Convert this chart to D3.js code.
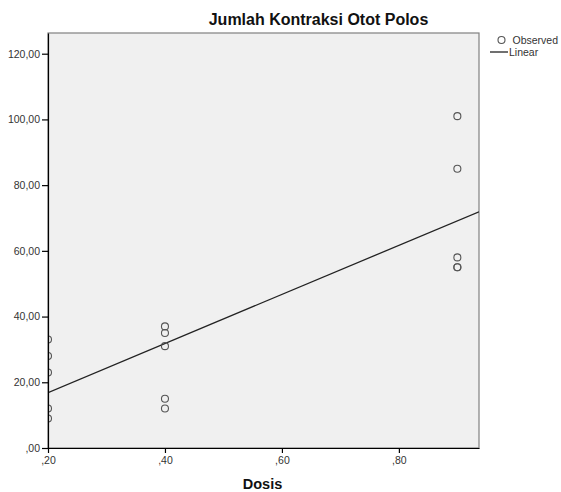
<!DOCTYPE html>
<html>
<head>
<meta charset="utf-8">
<script src="https://cdn.jsdelivr.net/npm/d3@7"></script>
<style>
  body { margin: 0; background: #fff; }
  text { font-family: "Liberation Sans", Arial, sans-serif; }
</style>
</head>
<body>
<script>
// observed values
var dosis     = [0.2, 0.2, 0.2, 0.2, 0.2, 0.4, 0.4, 0.4, 0.4, 0.4, 0.9, 0.9, 0.9, 0.9, 0.9];
var kontraksi = [33, 28, 23, 12, 9, 37, 35, 31, 15, 12, 101, 85, 58, 55, 55];
var xTicks = [0.2, 0.4, 0.6, 0.8];
var yTicks = [0, 20, 40, 60, 80, 100, 120];
var legendLabels = ['Observed', 'Linear'];

var totalWidth = 561, totalHeight = 492;
var margin = { top: 33, right: 83, bottom: 44, left: 48 };
var graphWidth = 431, graphHeight = 415;

var svg = d3.select('body')
  .append('svg')
  .attr('width', totalWidth)
  .attr('height', totalHeight);

var xScale = d3.scaleLinear().domain([0.2, 0.937]).range([0, graphWidth]);
var yScale = d3.scaleLinear().domain([0, 126.3]).range([graphHeight, 0]);

// SPSS style numbers: ",20" and "120,00"
function spssFormat(d) {
  return d3.format('.2f')(d).replace(/^0\./, '.').replace('.', ',');
}

var mainGroup = svg.append('g')
  .attr('transform', 'translate(' + margin.left + ',' + margin.top + ')');

mainGroup.append('rect')
  .attr('width', graphWidth)
  .attr('height', graphHeight)
  .attr('fill', '#f0f0f0')
  .attr('stroke', '#808080')
  .attr('stroke-width', 1.2);

mainGroup.append('clipPath')
  .attr('id', 'plotClip')
  .append('rect')
  .attr('width', graphWidth)
  .attr('height', graphHeight);

// least squares fit line
var meanX = d3.mean(dosis), meanY = d3.mean(kontraksi);
var sxy = d3.sum(dosis, function(d, i) { return (d - meanX) * (kontraksi[i] - meanY); });
var sxx = d3.sum(dosis, function(d) { return (d - meanX) * (d - meanX); });
var slope = sxy / sxx;
var intercept = meanY - slope * meanX;
var fitX = xScale.domain();

var plot = mainGroup.append('g').attr('clip-path', 'url(#plotClip)');

plot.append('line')
  .attr('x1', xScale(fitX[0]))
  .attr('y1', yScale(intercept + slope * fitX[0]))
  .attr('x2', xScale(fitX[1]))
  .attr('y2', yScale(intercept + slope * fitX[1]))
  .attr('stroke', '#222')
  .attr('stroke-width', 1.3);

plot.selectAll('circle')
  .data(dosis)
  .enter()
  .append('circle')
  .attr('cx', function(d) { return xScale(d); })
  .attr('cy', function(d, i) { return yScale(kontraksi[i]); })
  .attr('r', 3.5)
  .attr('fill', 'none')
  .attr('stroke', '#555')
  .attr('stroke-width', 1.1);

// axes
var leftAxis = d3.axisLeft(yScale).tickValues(yTicks).tickFormat(spssFormat)
  .tickSizeInner(6).tickSizeOuter(0).tickPadding(2);
var leftAxisNodes = mainGroup.append('g').call(leftAxis);

var bottomAxis = d3.axisBottom(xScale).tickValues(xTicks).tickFormat(spssFormat)
  .tickSizeInner(5).tickSizeOuter(0).tickPadding(4);
var bottomAxisNodes = mainGroup.append('g')
  .attr('transform', 'translate(0,' + graphHeight + ')')
  .call(bottomAxis);

styleAxisNodes(leftAxisNodes);
styleAxisNodes(bottomAxisNodes);

// titles
svg.append('text')
  .attr('x', 318.5)
  .attr('y', 25)
  .attr('text-anchor', 'middle')
  .style('font-size', '16px')
  .style('font-weight', 'bold')
  .attr('fill', '#111')
  .text('Jumlah Kontraksi Otot Polos');

svg.append('text')
  .attr('x', margin.left + graphWidth / 2 - 1)
  .attr('y', 489)
  .attr('text-anchor', 'middle')
  .style('font-size', '14.5px')
  .style('font-weight', 'bold')
  .attr('fill', '#111')
  .text('Dosis');

// legend
var legend = svg.append('g').attr('transform', 'translate(490,40)');
legend.append('circle')
  .attr('cx', 11.5).attr('cy', 0).attr('r', 3.5)
  .attr('fill', 'none').attr('stroke', '#555').attr('stroke-width', 1.1);
legend.append('line')
  .attr('x1', 0).attr('x2', 18).attr('y1', 12).attr('y2', 12)
  .attr('stroke', '#222').attr('stroke-width', 1.3);
legend.selectAll('text')
  .data(legendLabels)
  .enter()
  .append('text')
  .attr('x', function(d, i) { return i === 0 ? 22.5 : 19; })
  .attr('y', function(d, i) { return i * 12 + 4; })
  .style('font-size', '10.5px')
  .attr('fill', '#333')
  .text(function(d) { return d; });

function styleAxisNodes(axisNodes) {
  axisNodes.select('.domain').attr('stroke', '#000').attr('stroke-width', 1.2);
  axisNodes.selectAll('.tick line').attr('stroke', '#000').attr('stroke-width', 1.2);
  axisNodes.selectAll('.tick text')
    .style('font-family', '"Liberation Sans", Arial, sans-serif')
    .style('font-size', '10.5px')
    .attr('fill', '#333');
}
</script>
</body>
</html>
